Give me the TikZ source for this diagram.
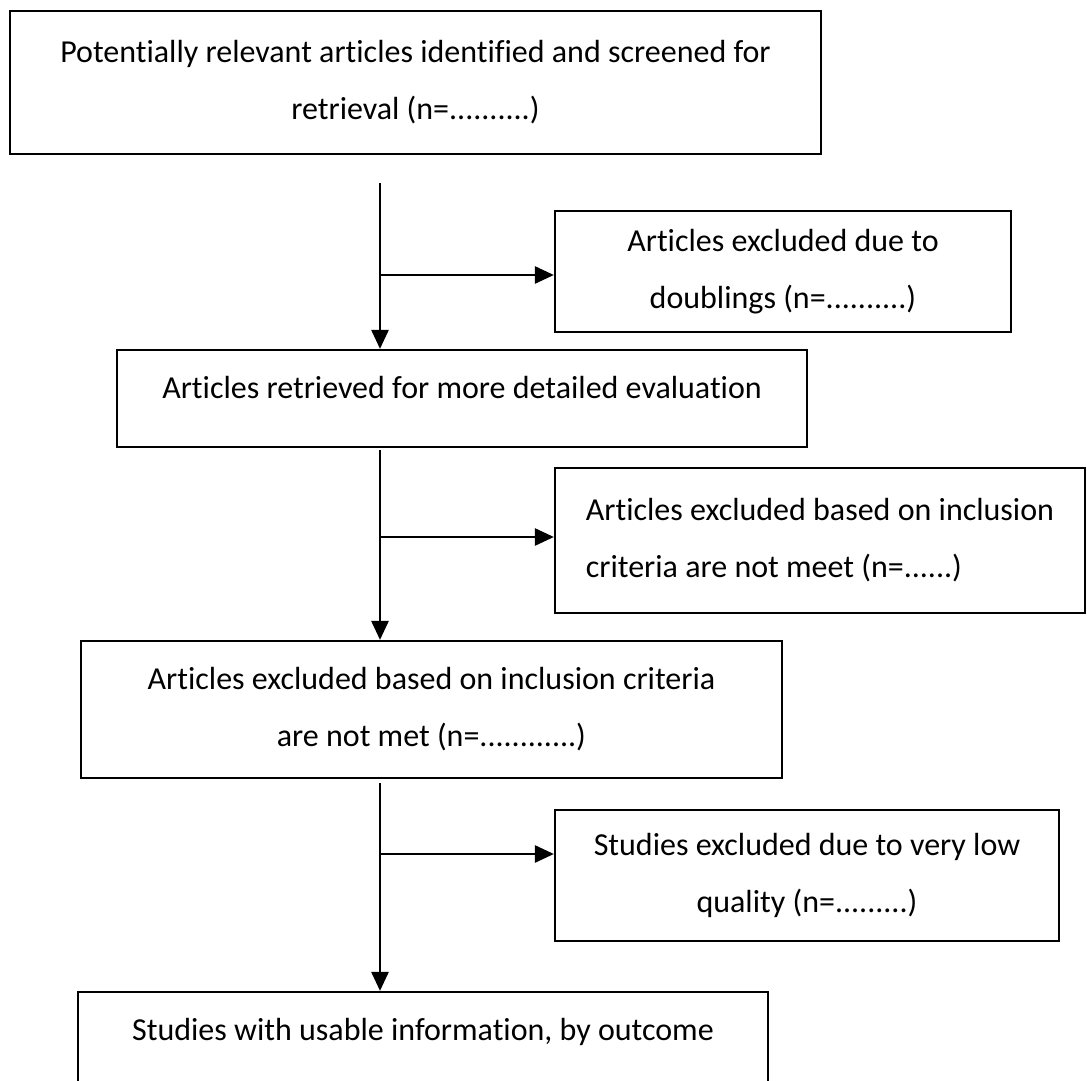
\documentclass[tikz,border=0pt]{standalone}
\usepackage{fontspec}
\setmainfont{Carlito}[Ligatures=NoCommon]
\usetikzlibrary{arrows.meta, positioning, calc}
\tikzset{
    base/.style = {
        draw=black, line width=2.2pt, rectangle, inner sep=0pt,
        align=center, font=\fontsize{32}{57}\selectfont
    },
    % Boxes
    mainbox/.style = {base},
    sidebox/.style = {base},
    % Connectors
    stem/.style  = {line width=1.3pt},
    arrow/.style = {line width=2.6pt, -{Triangle[length=19pt, width=17pt]}}
}

\begin{document}
\begin{tikzpicture}[x=1pt, y=-1pt]
    \useasboundingbox (0,0) rectangle (1087,1081);

    \node (screen) [mainbox, minimum width=811pt, minimum height=143pt] at (415.5,82.5) {Potentially relevant articles identified and screened for\\retrieval (n=..........)};
    \node (dup) [sidebox, minimum width=456pt, minimum height=121pt] at (783,271.5) {Articles excluded due to\\doublings (n=..........)};
    \node (retr) [mainbox, minimum width=690pt, minimum height=97pt, text depth=23pt] at (462,398.5) {Articles retrieved for more detailed evaluation};
    \node (incl) [sidebox, align=left, minimum width=530pt, minimum height=145pt] at (820,540.5) {Articles excluded based on inclusion\\criteria are not meet (n=......)};
    \node (met) [mainbox, minimum width=701pt, minimum height=137pt] at (431.5,709.5) {Articles excluded based on inclusion criteria\\are not met (n=............)};
    \node (lowq) [sidebox, minimum width=504pt, minimum height=131pt] at (807,875.5) {Studies excluded due to very low\\quality (n=.........)};
    \node (usable) [mainbox, minimum width=690pt, minimum height=120pt, text depth=46pt] at (423,1052) {Studies with usable information, by outcome};

    % Main stem and side branches
    \coordinate (s1) at (380,183);
    \coordinate (j1) at (380,275);
    \draw [stem] (s1) -- (j1);
    \draw [arrow] (j1) -- (j1 |- retr.north);
    \draw [arrow] (j1) -- (j1 -| dup.west);

    \coordinate (s2) at (380,450);
    \coordinate (j2) at (380,537);
    \draw [stem] (s2) -- (j2);
    \draw [arrow] (j2) -- (j2 |- met.north);
    \draw [arrow] (j2) -- (j2 -| incl.west);

    \coordinate (s3) at (380,783);
    \coordinate (j3) at (380,854);
    \draw [stem] (s3) -- (j3);
    \draw [arrow] (j3) -- (j3 |- usable.north);
    \draw [arrow] (j3) -- (j3 -| lowq.west);
\end{tikzpicture}
\end{document}
